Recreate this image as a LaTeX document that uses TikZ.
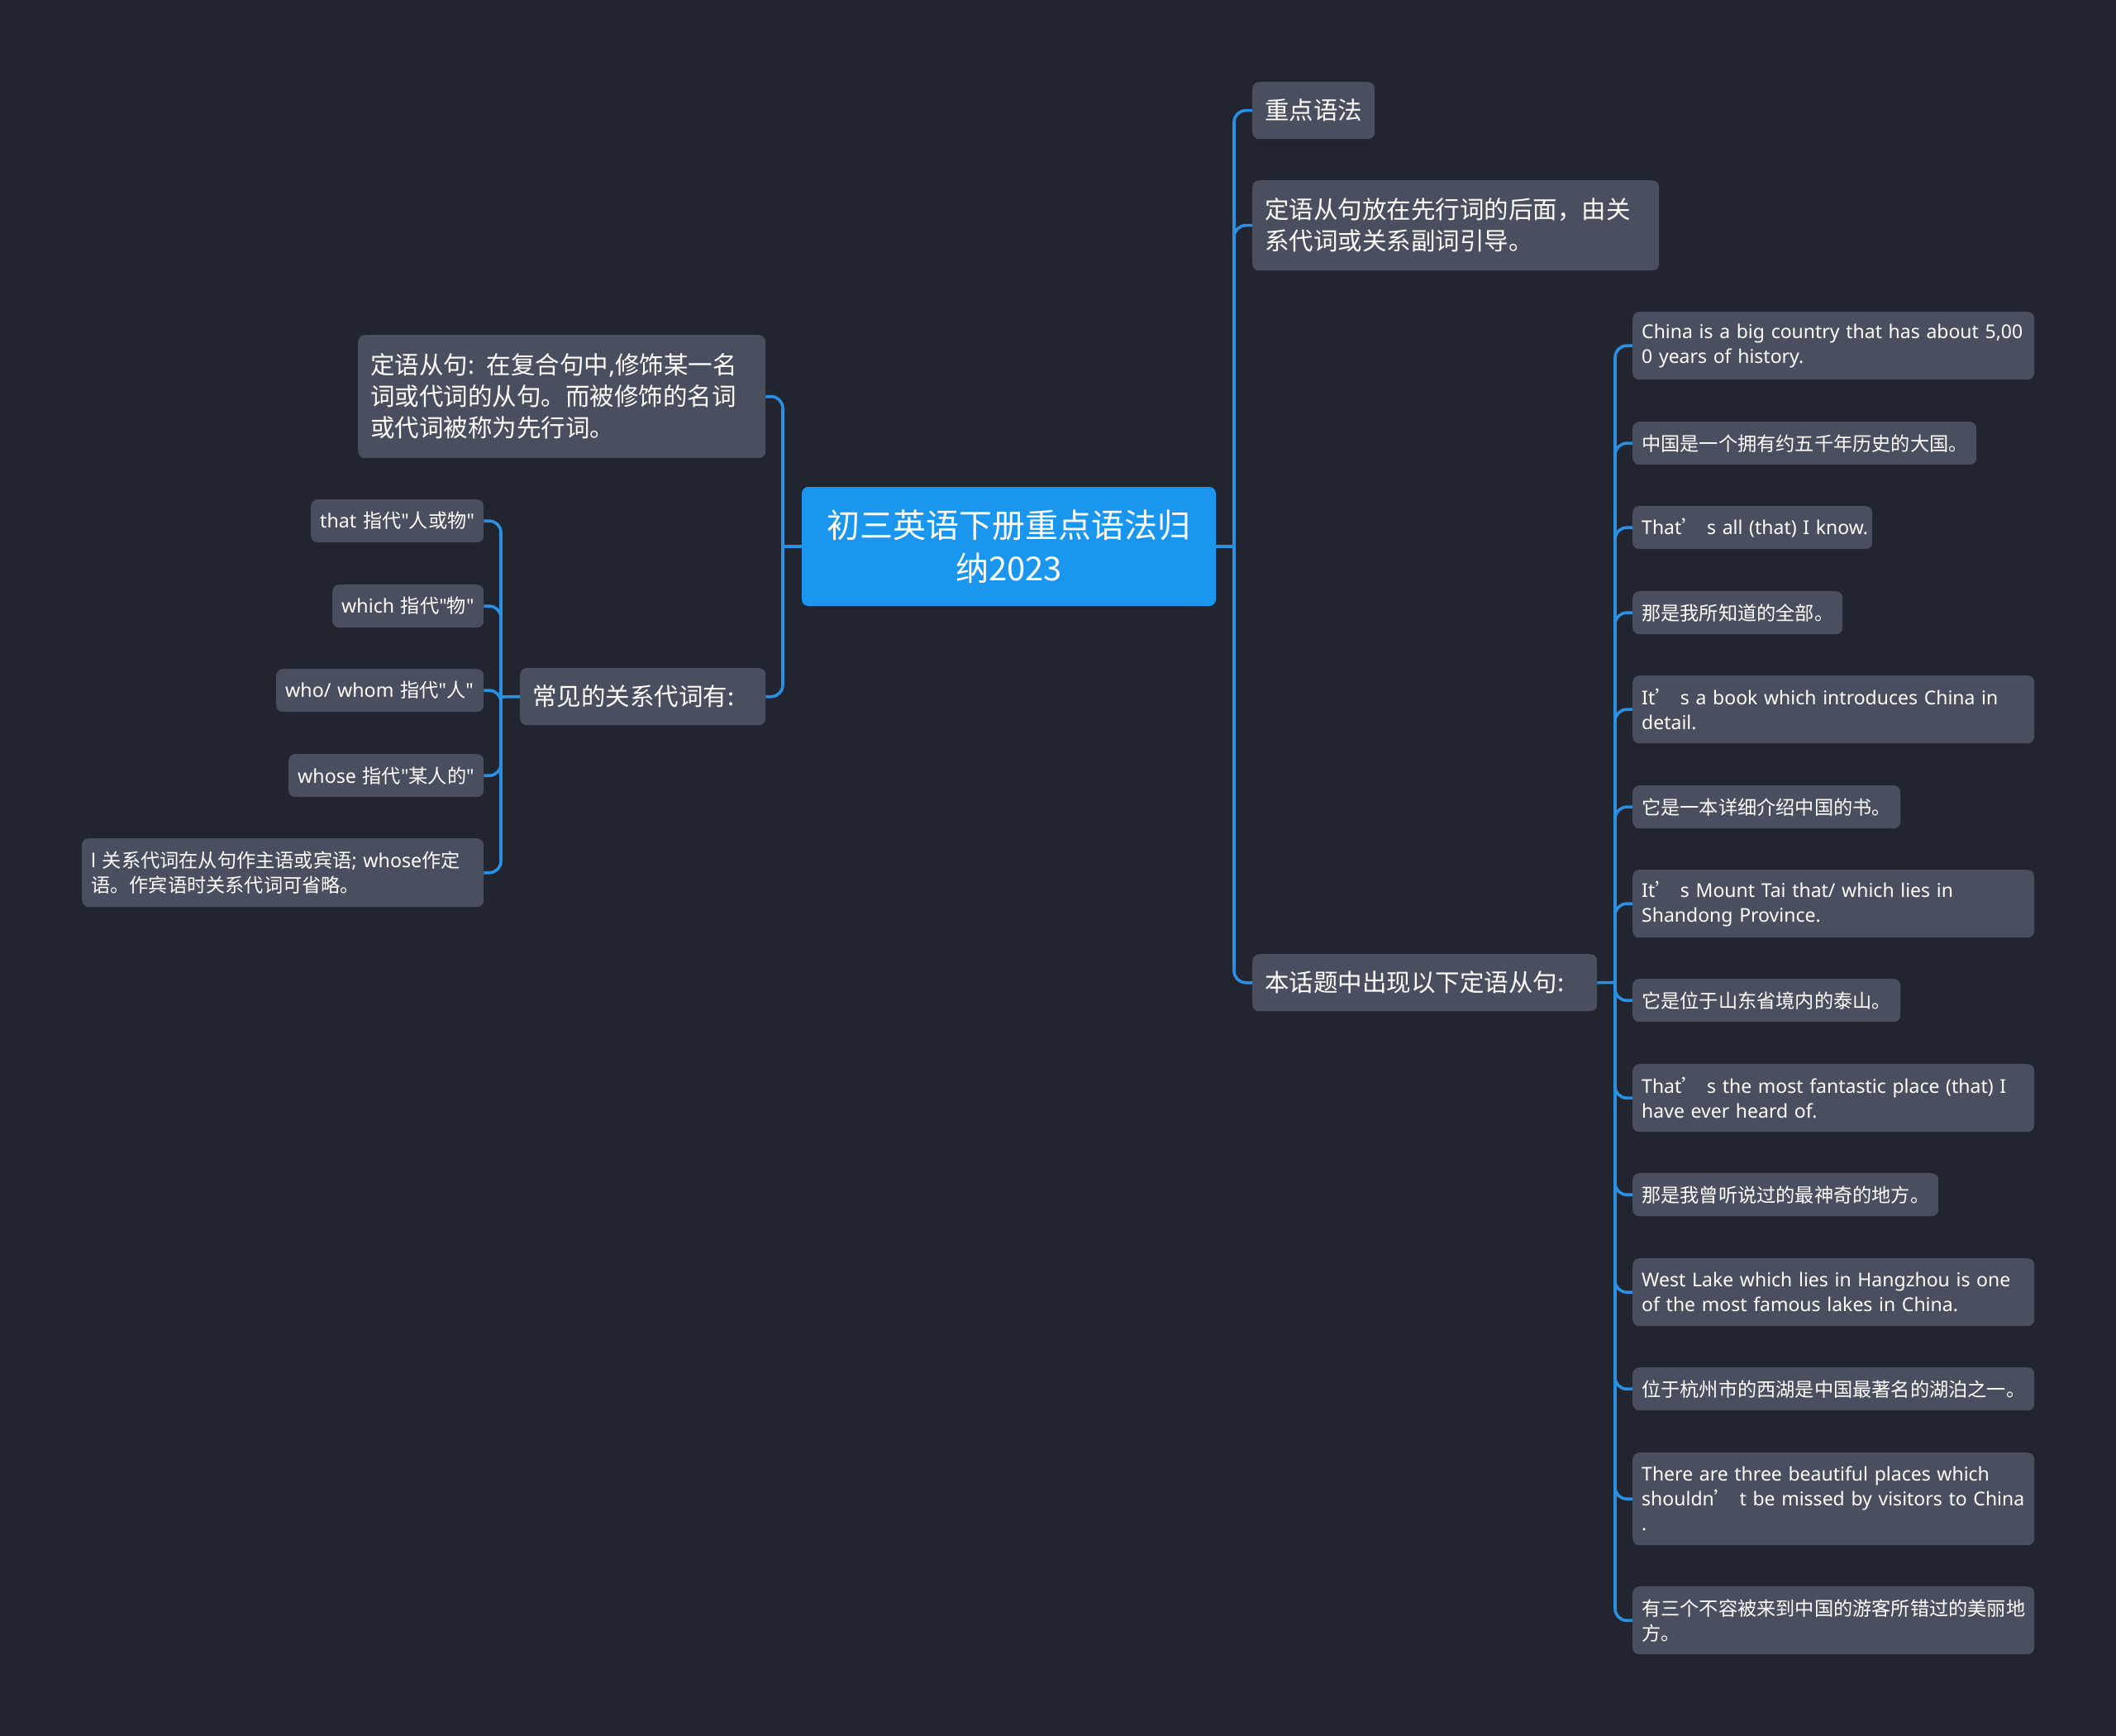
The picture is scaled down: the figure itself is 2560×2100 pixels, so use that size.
\documentclass[tikz,border=0pt]{standalone}
\usepackage{fontspec}
\setmainfont{Noto Sans CJK SC}
\newfontfamily\lat{Noto Sans}
\newfontfamily\cj{Noto Sans CJK SC}
\definecolor{bgcol}{RGB}{33,37,48}
\definecolor{nodefill}{RGB}{73,79,94}
\definecolor{rootfill}{RGB}{26,150,238}
\definecolor{linecol}{RGB}{43,143,226}
\newcommand\leaffont{\fontsize{23.2}{30}\selectfont}
\newcommand\eleaffont{\fontsize{23}{30}\selectfont}
\newcommand\midfont{\fontsize{29.5}{38}\selectfont}
\newcommand\rootfont{\fontsize{40}{52}\selectfont}
\newcommand\ap{{\cj ’}}
\tikzset{
  box/.style={rounded corners=8pt, fill=nodefill, text=white, inner ysep=0pt, anchor=north west, align=left},
  leaf/.style={box, inner xsep=11pt, font=\leaffont},
  eleaf/.style={box, inner xsep=11pt, font=\lat\eleaffont},
  mid/.style={box, inner xsep=15pt, font=\midfont},
  conn/.style={draw=linecol, line width=3.6pt, rounded corners=14pt},
}
\begin{document}
\begin{tikzpicture}[x=1pt,y=-1pt]
\useasboundingbox (0,0) rectangle (2560,2100);
\fill[bgcol] (0,0) rectangle (2560,2100);

% root
\node[rounded corners=8pt, fill=rootfill, text=white, align=center, font=\rootfont,
      minimum width=501pt, minimum height=144pt, inner sep=0pt] (root) at (1220.5,661)
      {初三英语下册重点语法归\\纳2023};

% left side
\node[mid, text width=463pt, minimum height=149pt] (l1) at (433,405)
  {定语从句{\lat:} 在复合句中{\lat,}修饰某一名\\词或代词的从句。而被修饰的名词\\或代词被称为先行词。};
\node[mid, text width=267pt, minimum height=69pt] (l2) at (629,808) {常见的关系代词有:};

\node[leaf, text width=187pt, minimum height=52pt] (a1) at (376,604) {\mbox{{\lat that} 指代{\lat"}人或物{\lat"}}};
\node[leaf, text width=161pt, minimum height=52pt] (a2) at (402,707) {\mbox{{\lat which} 指代{\lat"}物{\lat"}}};
\node[leaf, text width=229pt, minimum height=52pt] (a3) at (334,809) {\mbox{{\lat who/ whom} 指代{\lat"}人{\lat"}}};
\node[leaf, text width=214pt, minimum height=52pt] (a4) at (349,912) {\mbox{{\lat whose} 指代{\lat"}某人的{\lat"}}};
\node[leaf, text width=464pt, minimum height=83pt] (a5) at (99,1014)
  {{\lat l} 关系代词在从句作主语或宾语{\lat; whose}作定\\语。作宾语时关系代词可省略。};

% right side
\node[mid, text width=118pt, minimum height=69pt] (r1) at (1515,99) {重点语法};
\node[mid, text width=462pt, minimum height=109pt] (r2) at (1515,218)
  {定语从句放在先行词的后面，由关\\系代词或关系副词引导。};
\node[mid, text width=387pt, minimum height=69pt] (r3) at (1515,1154) {本话题中出现以下定语从句:};

\node[eleaf, text width=464pt, minimum height=82pt] (b1) at (1975,377)
  {\mbox{China is a big country that has about 5,00}\\0 years of history.};
\node[leaf, text width=394pt, minimum height=52pt] (b2) at (1975,510) {中国是一个拥有约五千年历史的大国。};
\node[eleaf, text width=268pt, minimum height=52pt] (b3) at (1975,612) {\mbox{That\ap\ s all (that) I know.}};
\node[leaf, text width=232pt, minimum height=52pt] (b4) at (1975,715) {那是我所知道的全部。};
\node[eleaf, text width=464pt, minimum height=82pt] (b5) at (1975,817)
  {\mbox{It\ap\ s a book which introduces China in}\\detail.};
\node[leaf, text width=302pt, minimum height=52pt] (b6) at (1975,950) {它是一本详细介绍中国的书。};
\node[eleaf, text width=464pt, minimum height=82pt] (b7) at (1975,1052)
  {\mbox{It\ap\ s Mount Tai that/ which lies in}\\Shandong Province.};
\node[leaf, text width=302pt, minimum height=52pt] (b8) at (1975,1184) {它是位于山东省境内的泰山。};
\node[eleaf, text width=464pt, minimum height=82pt] (b9) at (1975,1287)
  {\mbox{That\ap\ s the most fantastic place (that) I}\\have ever heard of.};
\node[leaf, text width=348pt, minimum height=52pt] (b10) at (1975,1419) {那是我曾听说过的最神奇的地方。};
\node[eleaf, text width=464pt, minimum height=82pt] (b11) at (1975,1522)
  {\mbox{West Lake which lies in Hangzhou is one}\\of the most famous lakes in China.};
\node[leaf, text width=464pt, minimum height=52pt] (b12) at (1975,1654) {位于杭州市的西湖是中国最著名的湖泊之一。};
\node[eleaf, text width=464pt, minimum height=112pt] (b13) at (1975,1757)
  {\mbox{There are three beautiful places which}\\\mbox{shouldn\ap\ t be missed by visitors to China}\\.};
\node[leaf, text width=464pt, minimum height=82pt] (b14) at (1975,1919)
  {有三个不容被来到中国的游客所错过的美丽地\\方。};

% junction coordinates
\coordinate (rj) at (1493,661);
\coordinate (lj) at (947,661);
\coordinate (r3j) at (1954,1188.5);
\coordinate (l2j) at (606,843);

% connectors
\draw[conn] (root.east) -- (rj);
\foreach \n in {r1,r2,r3} \draw[conn] (rj) |- (\n.west);
\draw[conn] (root.west) -- (lj);
\foreach \n in {l1,l2} \draw[conn] (lj) |- (\n.east);
\draw[conn] (r3.east) -- (r3j);
\foreach \n in {b1,b2,b3,b4,b5,b6,b7,b8,b9,b10,b11,b12,b13,b14} \draw[conn] (r3j) |- (\n.west);
\draw[conn] (l2.west) -- (l2j);
\foreach \n in {a1,a2,a3,a4,a5} \draw[conn] (l2j) |- (\n.east);
\end{tikzpicture}
\end{document}
